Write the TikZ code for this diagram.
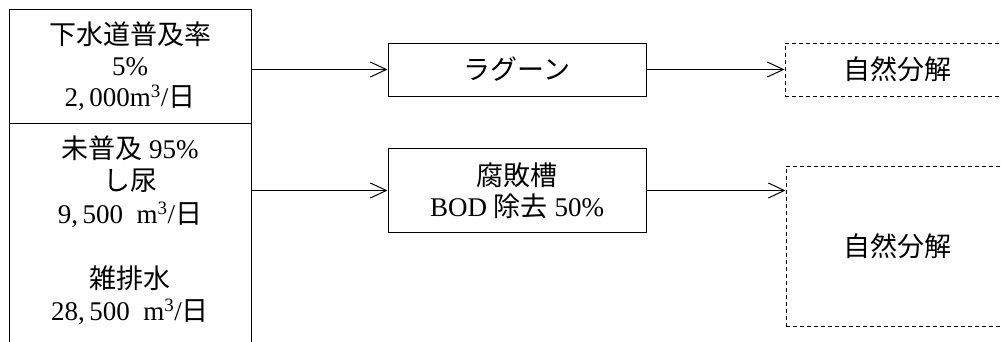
\documentclass[tikz,border=0pt]{standalone}
\usepackage{fontspec}
\setmainfont{Liberation Serif}
\newfontfamily\cjk{Noto Sans CJK JP}
\usetikzlibrary{arrows.meta}
\begin{document}
\begin{tikzpicture}[x=1pt,y=-1pt,
  every node/.style={font=\fontsize{27}{31}\selectfont, align=center, inner sep=0pt},
  cell/.style={draw, line width=1pt},
  box/.style={draw, line width=1pt},
  dbox/.style={draw, line width=1pt, dash pattern=on 4pt off 3pt},
  flow/.style={line width=1pt, -{Straight Barb[length=16pt,width=15pt]}}
]
\useasboundingbox (0,0) rectangle (1001,341);
\clip (0,0) rectangle (1001,341);
% left column
\node[cell, minimum width=242pt, minimum height=114pt] (sewer) at (130,66)
  {{\cjk 下水道普及率}\\5\%\\2,\,000m\textsuperscript{3}/{\cjk 日}};
\node[cell, minimum width=242pt, minimum height=222pt] (unsewered) at (130,234) {};
\node[font=\fontsize{27}{32.5}\selectfont] (unsewtext) at (130,230)
  {{\cjk 未普及} 95\%\\{\cjk し尿}\\9,\,500\enspace m\textsuperscript{3}/{\cjk 日}\\[32.5pt]{\cjk 雑排水}\\28,\,500\enspace m\textsuperscript{3}/{\cjk 日}};
% treatment
\node[box, minimum width=258pt, minimum height=53pt] (lagoon) at (517,69.5) {\cjk ラグーン};
\node[box, minimum width=258pt, minimum height=84pt] (septic) at (517,190.5)
  {{\cjk 腐敗槽}\\BOD {\cjk 除去} 50\%};
% natural decomposition
\node[dbox, minimum width=224pt, minimum height=53pt] (nature1) at (897,69.5) {\cjk 自然分解};
\node[dbox, minimum width=223pt, minimum height=160pt] (nature2) at (897.5,246) {\cjk 自然分解};
% connectors
\draw[flow] (sewer.east |- lagoon.west) -- (lagoon.west);
\draw[flow] (unsewered.east |- septic.west) -- (septic.west);
\draw[flow] (lagoon.east) -- (nature1.west);
\draw[flow] (septic.east) -- (septic.east -| nature2.west);
\end{tikzpicture}
\end{document}
